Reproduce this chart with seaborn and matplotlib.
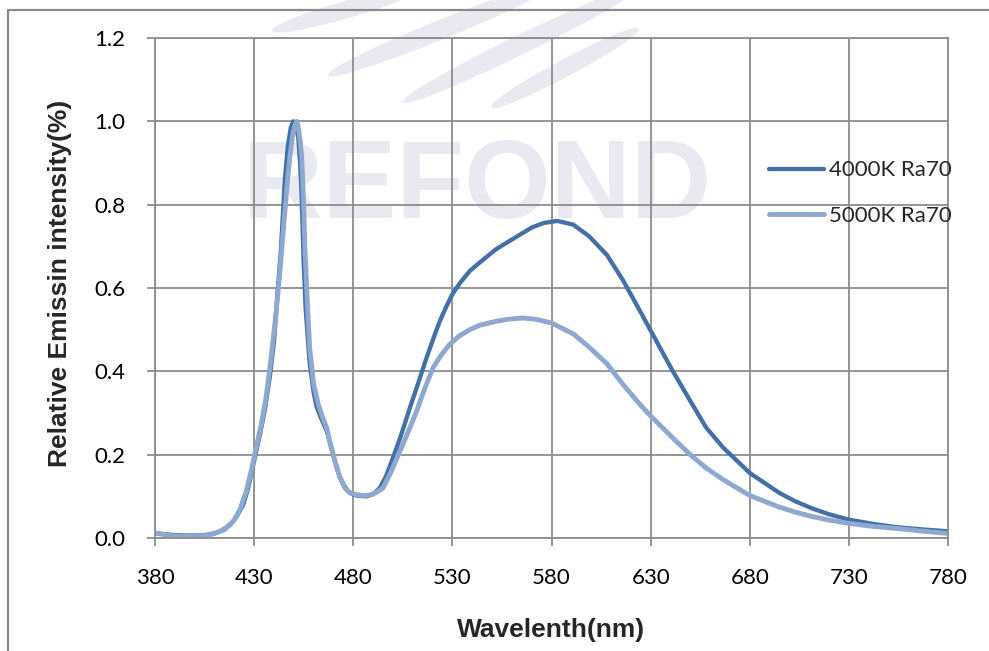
import pandas as pd
import seaborn as sns
import matplotlib.pyplot as plt
from matplotlib.patches import Ellipse, Rectangle

# spectrum (wavelength nm, relative intensity)
wl_4000 = [380, 385, 390, 395, 400, 405, 410, 415, 418, 421, 424.5, 427, 430, 433, 435.5, 438, 440, 442,
           443.5, 445.5, 447, 448.5, 449.7, 451, 452.3, 453.2, 454, 455, 456, 458, 460, 461.5, 464, 466.6,
           469, 471, 473, 475, 477.5, 480, 483, 486.7, 490, 493.4, 496.5, 500, 504, 508.6, 513, 517, 520.5,
           523.7, 527, 530, 534, 538.8, 544, 552, 560.6, 570, 576, 583, 591, 599, 608, 616, 624.5, 630, 641,
           650, 658, 666.6, 680, 695, 703, 712, 720, 730, 742, 754, 766, 780]
int_4000 = [0.012, 0.009, 0.007, 0.006, 0.006, 0.007, 0.011, 0.02, 0.032, 0.05, 0.08, 0.12, 0.185, 0.25,
            0.31, 0.39, 0.47, 0.6, 0.69, 0.86, 0.94, 0.985, 1.0, 0.99, 0.96, 0.9, 0.82, 0.66, 0.55, 0.42,
            0.35, 0.315, 0.285, 0.257, 0.215, 0.18, 0.148, 0.128, 0.112, 0.104, 0.101, 0.1, 0.105, 0.12,
            0.148, 0.192, 0.245, 0.313, 0.375, 0.433, 0.48, 0.521, 0.556, 0.585, 0.613, 0.641, 0.662, 0.693,
            0.718, 0.745, 0.756, 0.761, 0.752, 0.724, 0.679, 0.619, 0.546, 0.498, 0.402, 0.329, 0.265, 0.217,
            0.156, 0.108, 0.088, 0.07, 0.057, 0.044, 0.034, 0.026, 0.021, 0.016]

wl_5000 = [380, 385, 390, 394, 400, 405, 408, 412, 416, 419.5, 423, 426, 428.5, 431, 433.5, 436, 438.5, 441,
           443, 444.7, 446.5, 448, 449.5, 450.6, 451.5, 452.5, 453.3, 454, 455, 455.6, 456.8, 458, 460, 462.4,
           464.5, 466.6, 468.5, 470.8, 473, 475.8, 478.5, 481.7, 485, 488.4, 491.5, 495, 499, 503.5, 508, 512,
           516, 520.3, 524.5, 528.7, 533.5, 538.8, 544, 552, 558, 565.6, 572, 580, 591, 599, 608, 616, 624.5,
           630, 641, 650, 658, 666.6, 680, 695, 703, 712, 720, 730, 742, 754, 766, 780]
int_5000 = [0.012, 0.008, 0.005, 0.004, 0.004, 0.006, 0.008, 0.014, 0.025, 0.04, 0.07, 0.112, 0.16, 0.216,
            0.27, 0.337, 0.43, 0.537, 0.64, 0.737, 0.84, 0.914, 0.97, 0.99, 1.0, 0.98, 0.95, 0.914, 0.8, 0.697,
            0.57, 0.457, 0.37, 0.32, 0.29, 0.265, 0.225, 0.184, 0.15, 0.12, 0.108, 0.104, 0.102, 0.103, 0.109,
            0.12, 0.158, 0.208, 0.258, 0.305, 0.358, 0.409, 0.44, 0.465, 0.485, 0.5, 0.511, 0.52, 0.525, 0.528,
            0.525, 0.516, 0.49, 0.458, 0.418, 0.369, 0.321, 0.293, 0.241, 0.2, 0.168, 0.14, 0.102, 0.074,
            0.062, 0.051, 0.043, 0.035, 0.028, 0.023, 0.017, 0.011]

x_ticks = list(range(380, 781, 50))
y_ticks = [0.0, 0.2, 0.4, 0.6, 0.8, 1.0, 1.2]

df_4000 = pd.DataFrame({"Wavelength": wl_4000, "Intensity": int_4000})
df_5000 = pd.DataFrame({"Wavelength": wl_5000, "Intensity": int_5000})

sns.set_theme(style="white")
plt.rcParams["font.family"] = ["Lato", "DejaVu Sans"]

W, H = 989, 651
fig = plt.figure(figsize=(W / 100, H / 100), dpi=100)
ax = fig.add_axes([155 / W, 1 - 538 / H, 793 / W, 500 / H])
ax.set_facecolor("none")

# faint watermark behind everything
wm = "#e9eaf1"
fig.text(243 / W, 1 - 218 / H, "REFOND", fontsize=80, fontweight="bold", color=wm,
         family="Liberation Sans", ha="left", va="baseline", zorder=-2)
for cx, cy, ln, wd, ang in [(345, 10, 150, 16, 16), (440, 30, 240, 18, 22),
                            (520, 45, 260, 18, 26), (565, 68, 165, 16, 28)]:
    fig.patches.append(Ellipse((cx / 100, (H - cy) / 100), ln / 100, wd / 100, angle=ang,
                               transform=fig.dpi_scale_trans, color=wm, zorder=-2))
fig.patches.append(Rectangle((8 / 100, -1), 20, (H - 10) / 100 + 1, transform=fig.dpi_scale_trans,
                             fill=False, edgecolor="#8a8a8a", lw=1.6, zorder=-1))

sns.lineplot(data=df_4000, x="Wavelength", y="Intensity", ax=ax, color="#4470a8", lw=3.1,
             label="4000K Ra70", sort=False)
sns.lineplot(data=df_5000, x="Wavelength", y="Intensity", ax=ax, color="#8ea8d0", lw=3.5,
             label="5000K Ra70", sort=False)

ax.set_xlim(380, 780)
ax.set_ylim(0, 1.2)
ax.set_xticks(x_ticks)
ax.set_yticks(y_ticks)
ax.set_yticklabels([f"{v:.1f}" for v in y_ticks])
ax.grid(True, color="#8c8c8c", lw=1.3)
for s in ax.spines.values():
    s.set_color("#8c8c8c")
    s.set_linewidth(1.3)
ax.tick_params(direction="out", length=5.5, width=1.3, color="#8c8c8c", labelsize=16,
               labelcolor="black", pad=16, bottom=True, left=True)

ax.set_xlabel("Wavelenth(nm)", fontsize=19, fontweight="bold", family="Liberation Sans")
ax.set_ylabel("Relative Emissin intensity(%)", fontsize=19, fontweight="bold", family="Liberation Sans")
ax.xaxis.set_label_coords(0.5, (538 - 618) / 500)
ax.yaxis.set_label_coords((72 - 155) / 793, 0.51)

ax.legend(loc="upper left", bbox_to_anchor=(0.774, 0.755), frameon=False, fontsize=16,
          handlelength=2.5, handletextpad=0.2, labelspacing=1.15, borderpad=0, borderaxespad=0)

fig.savefig("out.png", dpi=100)
